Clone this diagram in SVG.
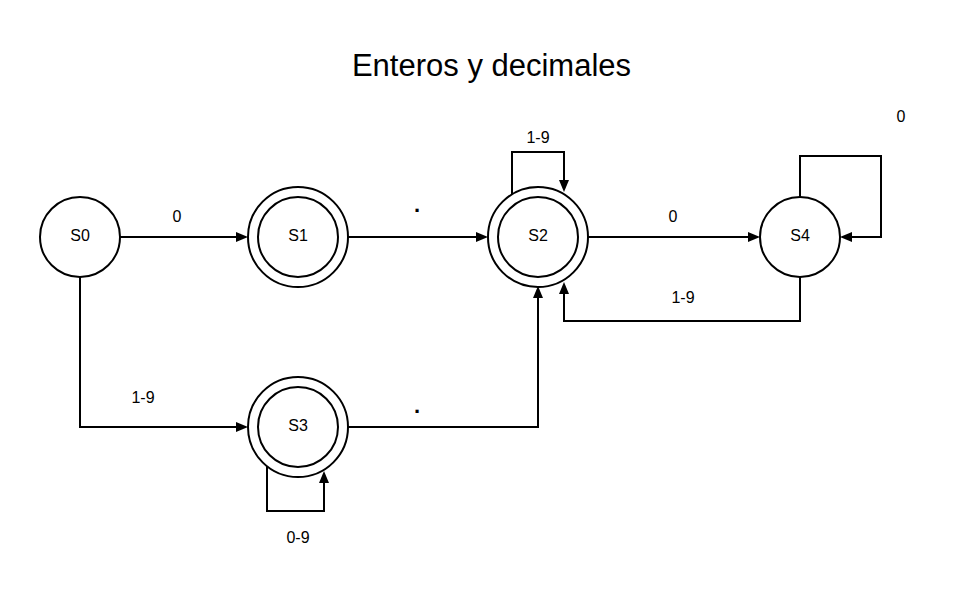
<svg xmlns="http://www.w3.org/2000/svg" width="961" height="602" viewBox="0 0 961 602">
<defs>
<style>
.node circle{fill:#fff;stroke:#000;stroke-width:2}
.lbl{font-family:"Liberation Sans",Arial,sans-serif;font-size:16px;fill:#000;text-anchor:middle}
.dot{font-size:22px;font-weight:bold}
.title{font-family:"Liberation Sans",Arial,sans-serif;font-size:31px;fill:#000;text-anchor:middle}
.edge{fill:none;stroke:#000;stroke-width:2;marker-end:url(#arr)}
</style>
<marker id="arr" viewBox="0 0 12 10" refX="6" refY="5" markerWidth="12" markerHeight="10" orient="auto" markerUnits="userSpaceOnUse">
<path d="M0,0 L12,5 L0,10 Z" fill="#000"/>
</marker>
</defs>
<rect width="961" height="602" fill="#fff"/>
<text class="title" x="491.5" y="76">Enteros y decimales</text>
<g id="connectors">
<path class="edge" d="M120,237 H242"/>
<path class="edge" d="M348,237 H482"/>
<path class="edge" d="M588,237 H754"/>
<path class="edge" d="M800,197 V156 H881 V237 H846"/>
<path class="edge" d="M800,277 V321 H564 V288"/>
<path class="edge" d="M512,194 V152 H564 V186"/>
<path class="edge" d="M80,277 V427 H242"/>
<path class="edge" d="M348,427 H538 V292"/>
<path class="edge" d="M267,466 V511 H324 V477"/>
<text class="lbl" x="177" y="222">0</text>
<text class="lbl dot" x="417" y="212">.</text>
<text class="lbl" x="673" y="222">0</text>
<text class="lbl" x="901" y="122">0</text>
<text class="lbl" x="538" y="143">1-9</text>
<text class="lbl" x="683" y="303">1-9</text>
<text class="lbl" x="143" y="403">1-9</text>
<text class="lbl dot" x="417" y="413">.</text>
<text class="lbl" x="298" y="543">0-9</text>
</g>
<g id="S0" class="node"><circle cx="80" cy="237" r="40"/><text class="lbl" x="80" y="241">S0</text></g>
<g id="S1" class="node"><circle cx="298" cy="237" r="50"/><circle cx="298" cy="237" r="40"/><text class="lbl" x="298" y="241">S1</text></g>
<g id="S2" class="node"><circle cx="538" cy="237" r="50"/><circle cx="538" cy="237" r="40"/><text class="lbl" x="538" y="241">S2</text></g>
<g id="S4" class="node"><circle cx="800" cy="237" r="40"/><text class="lbl" x="800" y="241">S4</text></g>
<g id="S3" class="node"><circle cx="298" cy="427" r="50"/><circle cx="298" cy="427" r="40"/><text class="lbl" x="298" y="431">S3</text></g>
</svg>
